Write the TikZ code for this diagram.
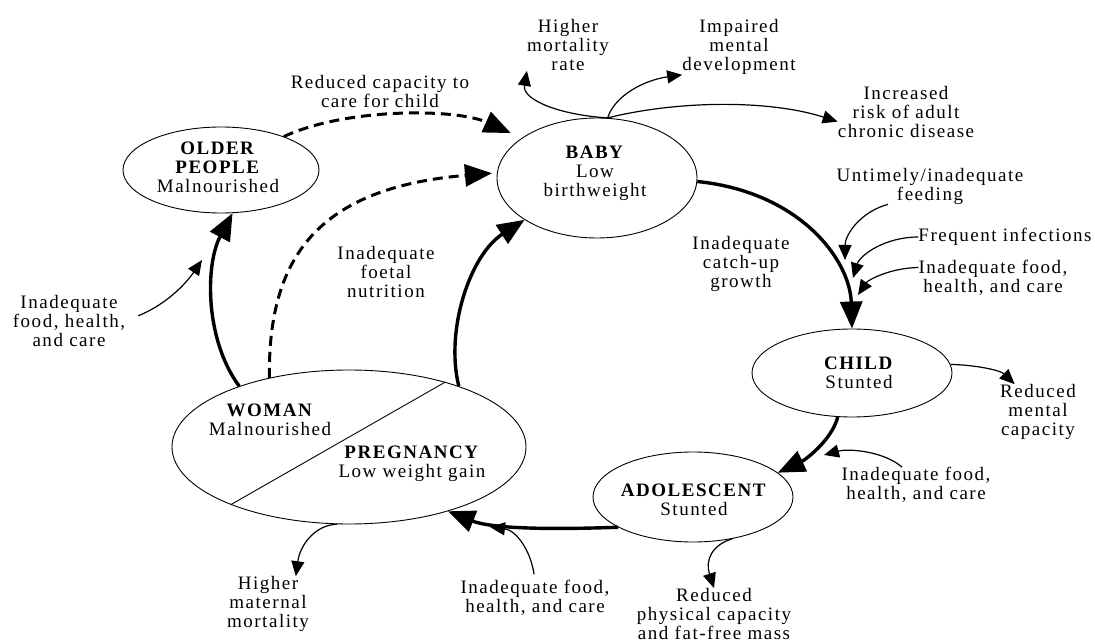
\documentclass[tikz,border=0pt]{standalone}
\usepackage{fontspec}
\setmainfont{Liberation Serif}[LetterSpace=8]
\usetikzlibrary{arrows.meta,shapes.geometric}

\begin{document}
\begin{tikzpicture}[x=1pt,y=-1pt,
		every node/.style={font=\fontsize{19}{19}\selectfont},
		stage/.style={draw,ellipse,line width=0.9pt,inner sep=0pt},
		txt/.style={align=center,inner sep=0pt},
		mainflow/.style={line width=3.4pt,-{Triangle[length=27pt,width=22pt]}},
		dashflow/.style={mainflow,line width=3pt,dash pattern=on 10pt off 6pt},
		sideflow/.style={line width=1.2pt,-{Triangle[length=15pt,width=13pt]}}]
	\useasboundingbox (0,0) rectangle (1095,644);
	\node[stage,minimum width=196pt,minimum height=86pt] (older) at (221,170) {};
	\node[stage,minimum width=200pt,minimum height=120pt] (baby) at (597,178) {};
	\node[stage,minimum width=200pt,minimum height=88pt] (child) at (852,373) {};
	\node[stage,minimum width=200pt,minimum height=90pt] (adol) at (693,497) {};
	\node[stage,minimum width=354pt,minimum height=154pt] (wp) at (349,447) {};
	\node[txt] (olderlbl) at (218,167) {\textbf{OLDER}\\\textbf{PEOPLE}\\Malnourished};
	\node[txt] (babylbl) at (595,173) {\textbf{BABY}\\Low\\birthweight};
	\node[txt] (childlbl) at (859,373) {\textbf{CHILD}\\Stunted};
	\node[txt] (adollbl) at (694,500) {\textbf{ADOLESCENT}\\Stunted};
	\node[txt] (womanlbl) at (270,420) {\textbf{WOMAN}\\Malnourished};
	\node[txt] (preglbl) at (412,464) {\textbf{PREGNANCY}\\Low weight gain};
	\node[txt] (hmr) at (568,45) {Higher\\mortality\\rate};
	\node[txt] (imd) at (739,47) {Impaired\\mental\\development};
	\node[txt] (ird) at (906,112) {Increased\\risk of adult\\chronic disease};
	\node[txt] (rcc) at (380,92) {Reduced capacity to\\care for child};
	\node[txt] (ifn) at (386,272) {Inadequate\\foetal\\nutrition};
	\node[txt] (icg) at (741,264) {Inadequate\\catch-up\\growth};
	\node[txt] (ufd) at (930,186) {Untimely/inadequate\\feeding};
	\node[txt] (fi) at (1005,237) {Frequent infections};
	\node[txt] (iqc) at (993,278) {Inadequate food,\\health, and care};
	\node[txt] (rmc) at (1038,412) {Reduced\\mental\\capacity};
	\node[txt] (iqa) at (916,485) {Inadequate food,\\health, and care};
	\node[txt] (rpc) at (714,614) {Reduced\\physical capacity\\and fat-free mass};
	\node[txt] (iqp) at (535,598) {Inadequate food,\\health, and care};
	\node[txt] (hmm) at (268,604) {Higher\\maternal\\mortality};
	\node[txt] (iqw) at (69,321) {Inadequate\\food, health,\\and care};
	\coordinate (feedtip) at (845,260);
	\coordinate (infecttip) at (853,278);
	\coordinate (childfoodtip) at (858,295);
	\coordinate (adolfoodtip) at (824,455);
	\coordinate (pregfoodtip) at (490,527);
	\coordinate (olderfoodtip) at (202,260);
	\draw[line width=0.9pt] (wp.206) -- (wp.34);
	\draw[mainflow] (baby.-2) .. controls (800,192) and (850,260) .. (child.north);
	\draw[mainflow] (child.252) .. controls (832,440) and (805,460) .. (adol.16);
	\draw[mainflow] (adol.202) .. controls (540,530) and (490,528) .. (wp.327);
	\draw[mainflow] (wp.29) .. controls (445,330) and (470,255) .. (baby.210);
	\draw[mainflow] (wp.151) .. controls (205,340) and (205,265) .. (older.285);
	\draw[dashflow,shorten >=5pt] (wp.139) .. controls (268,260) and (315,188) .. (baby.177);
	\draw[dashflow,shorten >=12pt] (older.28) .. controls (345,108) and (455,108) .. (baby.152);
	\draw[sideflow] (baby.80) .. controls (560,115) and (522,100) .. (hmr.south west);
	\draw[sideflow] (baby.80) .. controls (615,95) and (645,80) .. (imd.south west);
	\draw[sideflow] (baby.80) .. controls (680,100) and (770,100) .. (ird.188);
	\draw[sideflow] ([xshift=-42pt]ufd.south) .. controls (860,212) and (845,235) .. (feedtip);
	\draw[sideflow] (fi.west) .. controls (885,237) and (860,255) .. (infecttip);
	\draw[sideflow] (iqc.172) .. controls (890,268) and (868,280) .. (childfoodtip);
	\draw[sideflow] (child.5) .. controls (975,365) and (1000,370) .. (rmc.130);
	\draw[sideflow] ([xshift=-14pt]iqa.north) .. controls (885,452) and (850,448) .. (adolfoodtip);
	\draw[sideflow] (adol.313) .. controls (712,545) and (705,560) .. (rpc.north);
	\draw[sideflow,shorten <=6pt] (iqp.north) .. controls (530,548) and (515,530) .. (pregfoodtip);
	\draw[sideflow] (wp.261) .. controls (315,525) and (300,545) .. (hmm.45);
	\draw[sideflow,shorten <=14pt] (iqw.east) .. controls (165,305) and (185,285) .. (olderfoodtip);
\end{tikzpicture}
\end{document}
